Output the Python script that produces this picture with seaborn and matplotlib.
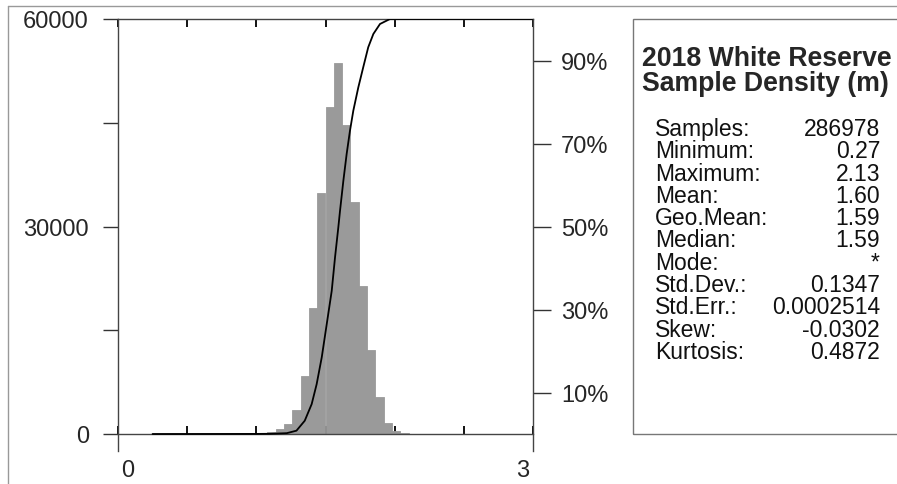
import matplotlib
matplotlib.use("Agg")
import matplotlib.pyplot as plt
import matplotlib.transforms as mtransforms
from matplotlib.lines import Line2D
from matplotlib.patches import Rectangle
import numpy as np
import pandas as pd
import seaborn as sns

# histogram: left edge of each 0.06 wide bin and its count
bin_left = [1.02, 1.08, 1.14, 1.20, 1.26, 1.32, 1.38, 1.44, 1.50,
            1.56, 1.62, 1.68, 1.74, 1.80, 1.86, 1.92, 1.98, 2.04]
bin_count = [60, 250, 720, 1450, 3500, 8400, 18200, 34800, 47300,
             53600, 44700, 33600, 21400, 12100, 5300, 1600, 400, 150]
bin_width = 0.06

# cumulative curve (percent)
cdf_x = [0.25, 1.00, 1.10, 1.22, 1.29, 1.35, 1.40, 1.436, 1.473, 1.509,
         1.545, 1.569, 1.593, 1.605, 1.629, 1.653, 1.677, 1.701, 1.737,
         1.773, 1.809, 1.846, 1.894, 1.966, 3.00]
cdf_pct = [0, 0.02, 0.05, 0.2, 0.8, 3.2, 7.2, 12.0, 18.5, 26.5,
           34.5, 42.6, 49.9, 53.8, 61.0, 67.5, 73.1, 77.9, 83.5,
           88.4, 93.2, 96.4, 98.8, 100, 100]

# statistics panel
title_lines = ["2018 White Reserve", "Sample Density (m)"]
stat_names = ["Samples:", "Minimum:", "Maximum:", "Mean:", "Geo.Mean:", "Median:",
              "Mode:", "Std.Dev.:", "Std.Err.:", "Skew:", "Kurtosis:"]
stat_values = ["286978", "0.27", "2.13", "1.60", "1.59", "1.59",
               "*", "0.1347", "0.0002514", "-0.0302", "0.4872"]

sns.set_style("white")
plt.rcParams["font.family"] = ["Liberation Sans", "DejaVu Sans"]

W, H = 897, 485
fig = plt.figure(figsize=(W / 100, H / 100), dpi=100)
ax = fig.add_axes([118 / W, 1 - 452 / H, 415 / W, 432 / H])

# -----------------------------
# Histogram
# -----------------------------
hist_df = pd.DataFrame({"x": np.array(bin_left) + bin_width / 2, "n": bin_count})
edges = [round(b, 2) for b in bin_left] + [round(bin_left[-1] + bin_width, 2)]
sns.histplot(data=hist_df, x="x", weights="n", bins=edges, color="#9a9a9a",
             alpha=1, linewidth=0.6, edgecolor="#9a9a9a", ax=ax)
ax.set_xlim(0, 3)
ax.set_ylim(-60000 * 17 / 415, 60000)
ax.set_xlabel("")
ax.set_ylabel("")

ax.spines["bottom"].set_position(("data", 0))
for s in ["left", "bottom", "top"]:
    ax.spines[s].set_color("#444444")
    ax.spines[s].set_linewidth(1)
ax.spines["right"].set_visible(False)

ax.set_xticks([0, 3])
ax.set_xticklabels(["0", "3"])
ax.set_xticks(np.arange(0.5, 3, 0.5), minor=True)
ax.tick_params(axis="x", which="both", direction="in", bottom=True, top=True,
               length=6, width=1.3, color="black", labelsize=17, pad=18)
shift = [10, -10]
for lab, dx in zip(ax.get_xticklabels(), shift):
    lab.set_transform(lab.get_transform() +
                      mtransforms.ScaledTranslation(dx / 100, 0, fig.dpi_scale_trans))

ax.set_yticks([0, 30000, 60000])
ax.set_yticklabels(["0", "30000", "60000"])
ax.set_yticks([15000, 45000], minor=True)
ax.tick_params(axis="y", which="both", direction="out", left=True,
               length=11, width=1, color="#333333", labelsize=17, pad=10)

# -----------------------------
# Cumulative curve on right axis
# -----------------------------
ax2 = ax.twinx()
sns.lineplot(x=cdf_x, y=cdf_pct, ax=ax2, color="black", linewidth=1.3)
ax2.set_ylim(-100 * 17 / 415, 100)
ax2.set_ylabel("")
ax2.set_yticks([10, 30, 50, 70, 90])
ax2.set_yticklabels([f"{v}%" for v in [10, 30, 50, 70, 90]])
ax2.tick_params(axis="y", direction="out", right=True, length=13, width=1,
                color="#333333", labelsize=17, pad=7)
for s in ["left", "top", "bottom"]:
    ax2.spines[s].set_visible(False)
ax2.spines["right"].set_color("#444444")
ax2.spines["right"].set_linewidth(1)

# -----------------------------
# Frame and statistics box (box runs off the right edge)
# -----------------------------
fig.add_artist(Line2D([8 / W, 8 / W], [0, 1 - 7 / H], transform=fig.transFigure,
                      color="#999999", lw=1))
fig.add_artist(Line2D([8 / W, 1], [1 - 7 / H, 1 - 7 / H], transform=fig.transFigure,
                      color="#999999", lw=1))
fig.add_artist(Rectangle((633 / W, 1 - 435 / H), 500 / W, 415 / H,
                         transform=fig.transFigure, fill=False,
                         edgecolor="#777777", lw=1))

fig.text(642 / W, 1 - 66 / H, title_lines[0], fontsize=19.2, fontweight="bold",
         va="baseline", ha="left")
fig.text(642 / W, 1 - 91 / H, title_lines[1], fontsize=19.2, fontweight="bold",
         va="baseline", ha="left")

for i, (name, val) in enumerate(zip(stat_names, stat_values)):
    yb = 1 - (136 + i * 22.3) / H
    fig.text(655 / W, yb, name, fontsize=16.5, va="baseline", ha="left", color="#111111")
    fig.text(880 / W, yb, val, fontsize=16.5, va="baseline", ha="right", color="#111111")

fig.savefig("out.png", dpi=100)
plt.close()
